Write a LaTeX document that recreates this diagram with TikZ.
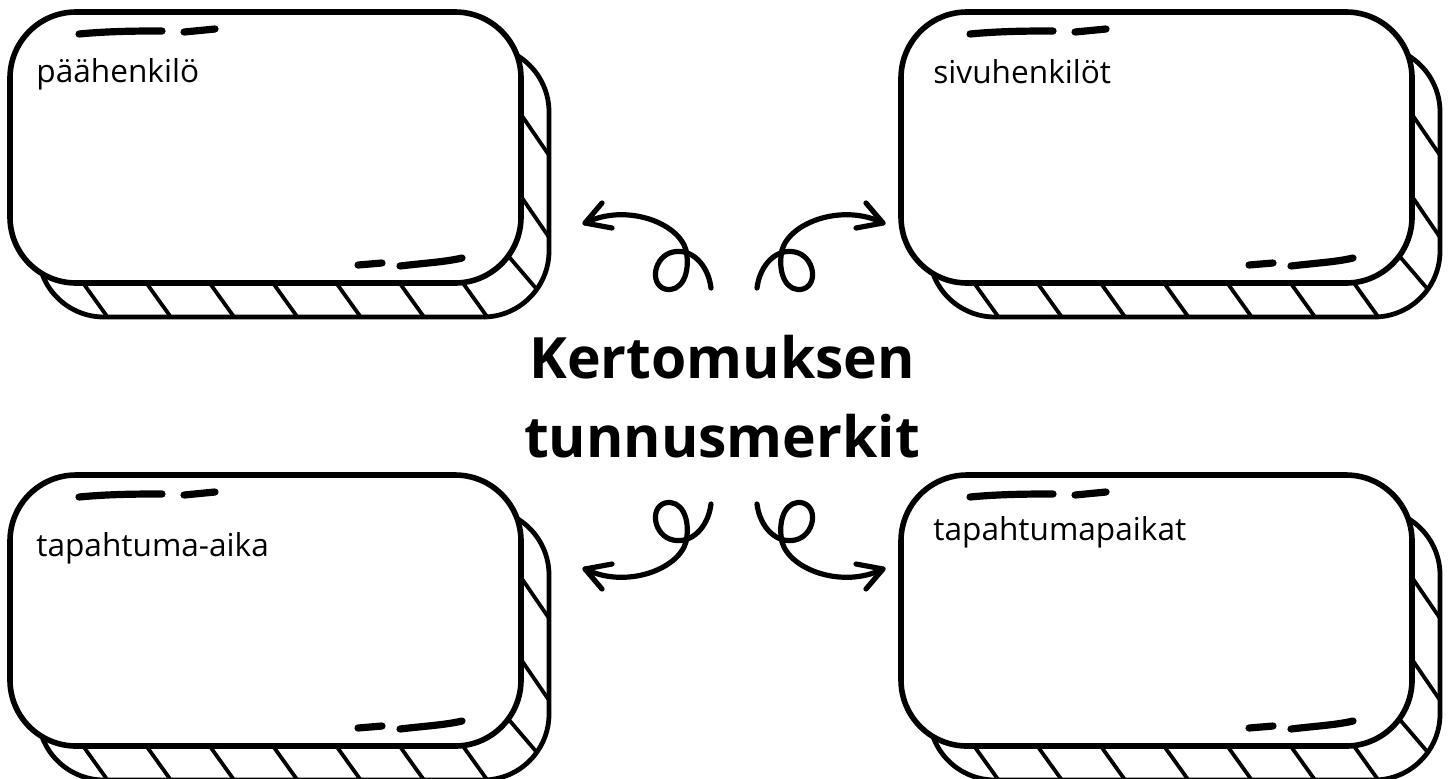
\documentclass[tikz,border=0pt]{standalone}
\usepackage{fontspec}
\setmainfont{Open Sans}
\begin{document}
\begin{tikzpicture}[x=0.5pt,y=-0.5pt,
    edge/.style={line width=2.8pt},
    backedge/.style={line width=2.4pt},
    hatch/.style={line width=1.9pt},
    brush/.style={line width=3.6pt,line cap=round},
    curl/.style={line width=2.6pt,line cap=round,line join=round},
    boxtext/.style={anchor=base west,inner sep=0pt,font=\fontsize{15.8}{19}\selectfont},
    titletext/.style={anchor=base,inner sep=0pt,font=\fontsize{28.5}{34}\selectfont\bfseries},
    card/.pic={
      % hatched side band
      \begin{scope}
        \clip[rounded corners=33pt] (28,34) rectangle (539,305);
        \foreach \k in {0,...,6}
          \draw[hatch] (69.5+63.3*\k,266) -- ++(33,46);
        \draw[hatch] (508,98) -- ++(37,54);
        \draw[hatch] (508,180) -- ++(37,54);
        \draw[hatch] (494,239) -- ++(36,42);
      \end{scope}
      \draw[backedge,rounded corners=33pt] (28,34) rectangle (539,305);
      \draw[edge,fill=white,rounded corners=33pt] (0,0) rectangle (511,271);
      % brush marks
      \draw[brush] (69,22) .. controls (100,19) and (130,19) .. (152,19);
      \draw[brush] (174,20) -- (205,17);
      \draw[brush] (348,253) -- (372,251);
      \draw[brush] (390,254) .. controls (415,251) and (435,250) .. (452,246);
    },
    swirl/.pic={
      \draw[curl] (0,0) .. controls (-3,-24) and (-20,-40) .. (-38,-36)
        .. controls (-57,-32) and (-62,-4) .. (-46,1)
        .. controls (-30,5) and (-20,-14) .. (-25,-38)
        .. controls (-33,-66) and (-86,-85) .. (-126,-65);
      \draw[curl] (-109,-85) -- (-126,-65) -- (-99,-60);
    }]
  \useasboundingbox (0,0) rectangle (1449,778);

  % the four cards
  \pic at (10,12) {card};
  \pic at (901,12) {card};
  \pic at (10,475) {card};
  \pic at (901,475) {card};

  \node[boxtext] (paahenkilo) at (36,82) {päähenkilö};
  \node[boxtext] (sivuhenkilot) at (933,83) {sivuhenkilöt};
  \node[boxtext] (aika) at (36,556) {tapahtuma-aika};
  \node[boxtext] (paikat) at (933,540) {tapahtumapaikat};

  % title
  \node[titletext] (kerto) at (722,378) {Kertomuksen};
  \node[titletext] (tunnus) at (722,457) {tunnusmerkit};

  % curly arrows
  \pic at (711,288) {swirl};
  \pic[xscale=-1] at (757,288) {swirl};
  \pic[yscale=-1] at (711,504) {swirl};
  \pic[xscale=-1,yscale=-1] at (757,504) {swirl};
\end{tikzpicture}
\end{document}
